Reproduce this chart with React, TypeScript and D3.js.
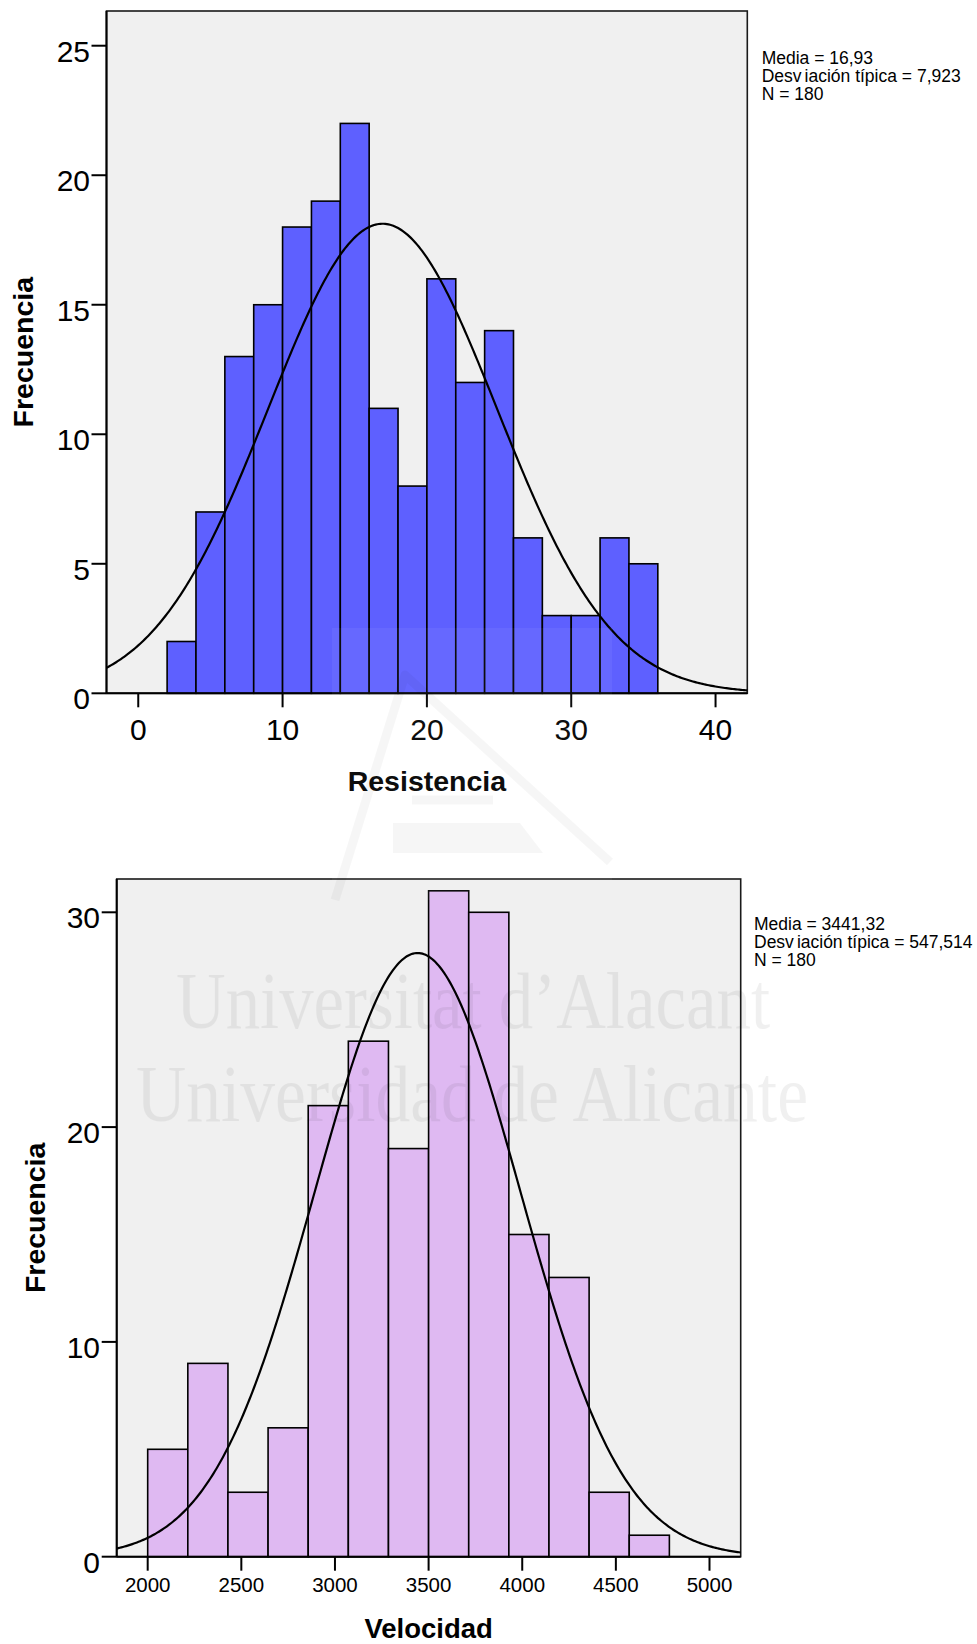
import React from "react";
import * as d3 from "d3";

// Resistencia histogram (bins of width 2 starting at 2)
const resistenciaBinStart = 2;
const resistenciaBinWidth = 2;
const resistenciaCounts = [2, 7, 13, 15, 18, 19, 22, 11, 8, 16, 12, 14, 6, 3, 3, 6, 5];
const resistenciaTicksX = [0, 10, 20, 30, 40];
const resistenciaTicksY = [0, 5, 10, 15, 20, 25];
const resistenciaStats = { mean: 16.93, sd: 7.923, n: 180 };
const resistenciaStatLines = ["Media = 16,93", "Desviación típica = 7,923", "N = 180"];

// Velocidad histogram
const velocidadBinStart = 2000;
const velocidadBinWidth = 1500 / 7;
const velocidadCounts = [5, 9, 3, 6, 21, 24, 19, 31, 30, 15, 13, 3, 1];
const velocidadTicksX = [2000, 2500, 3000, 3500, 4000, 4500, 5000];
const velocidadTicksY = [0, 10, 20, 30];
const velocidadStats = { mean: 3441.32, sd: 547.514, n: 180 };
const velocidadStatLines = ["Media = 3441,32", "Desviación típica = 547,514", "N = 180"];

const FONT = "'Liberation Sans', Arial, Helvetica, sans-serif";

type HistProps = {
  counts: number[];
  binStart: number;
  binWidth: number;
  ticksX: number[];
  ticksY: number[];
  stats: { mean: number; sd: number; n: number };
  statLines: string[];
  xDomain: [number, number];
  yDomain: [number, number];
  box: { left: number; right: number; top: number; bottom: number };
  fill: string;
  xLabel: string;
  xTickFont: number;
  xTickBaseline: number;
  yTickRight: number;
  yTitleX: number;
  xTitleY: number;
  xTitleSize: number;
  statsX: number;
  statsY: number;
};

function StatLine({ text }: { text: string }) {
  // the "Desv iación" gap comes from the original output's kerning
  if (text.startsWith("Desviación")) {
    return (
      <>
        Desv<tspan dx={3}>{text.slice(4)}</tspan>
      </>
    );
  }
  return <>{text}</>;
}

function Histogram(p: HistProps) {
  const x = d3.scaleLinear().domain(p.xDomain).range([p.box.left, p.box.right]);
  const y = d3.scaleLinear().domain(p.yDomain).range([p.box.bottom, p.box.top]);
  const bins = p.counts.map((c, i) => ({
    x0: p.binStart + i * p.binWidth,
    x1: p.binStart + (i + 1) * p.binWidth,
    c,
  }));
  const { mean, sd, n } = p.stats;
  const scaleFactor = (n * p.binWidth) / (sd * Math.sqrt(2 * Math.PI));
  const curveXs = d3.range(0, 401).map(
    (i) => p.xDomain[0] + ((p.xDomain[1] - p.xDomain[0]) * i) / 400
  );
  const line = d3
    .line<number>()
    .x((v) => x(v))
    .y((v) => y(scaleFactor * Math.exp(-0.5 * ((v - mean) / sd) ** 2)))
    .curve(d3.curveLinear);

  return (
    <g>
      <rect
        x={p.box.left}
        y={p.box.top}
        width={p.box.right - p.box.left}
        height={p.box.bottom - p.box.top}
        fill="#f0f0f0"
        stroke="#1a1a1a"
        strokeWidth={1.6}
      />
      {bins.map((b, i) => (
        <rect
          key={i}
          x={x(b.x0)}
          y={y(b.c)}
          width={x(b.x1) - x(b.x0)}
          height={y(0) - y(b.c)}
          fill={p.fill}
          stroke="#000"
          strokeWidth={1.6}
        />
      ))}
      <path d={line(curveXs) || ""} fill="none" stroke="#000" strokeWidth={2.2} />
      {/* axes */}
      <line x1={p.box.left} x2={p.box.right} y1={p.box.bottom} y2={p.box.bottom} stroke="#000" strokeWidth={2} />
      <line x1={p.box.left} x2={p.box.left} y1={p.box.top} y2={p.box.bottom} stroke="#000" strokeWidth={2} />
      {p.ticksY.map((t) => (
        <g key={"y" + t}>
          <line x1={p.box.left - 15} x2={p.box.left} y1={y(t)} y2={y(t)} stroke="#000" strokeWidth={2} />
          <text
            x={p.yTickRight}
            y={y(t) + 16}
            textAnchor="end"
            fontFamily={FONT}
            fontSize={30}
            fill="#000"
          >
            {t}
          </text>
        </g>
      ))}
      {p.ticksX.map((t) => (
        <g key={"x" + t}>
          <line x1={x(t)} x2={x(t)} y1={p.box.bottom} y2={p.box.bottom + 14} stroke="#000" strokeWidth={2} />
          <text
            x={x(t)}
            y={p.box.bottom + p.xTickBaseline}
            textAnchor="middle"
            fontFamily={FONT}
            fontSize={p.xTickFont}
            fill="#000"
          >
            {t}
          </text>
        </g>
      ))}
      <text
        x={(p.box.left + p.box.right) / 2}
        y={p.xTitleY}
        textAnchor="middle"
        fontFamily={FONT}
        fontWeight="bold"
        fontSize={p.xTitleSize}
        fill="#000"
      >
        {p.xLabel}
      </text>
      <text
        transform={`translate(${p.yTitleX},${(p.box.top + p.box.bottom) / 2}) rotate(-90)`}
        textAnchor="middle"
        fontFamily={FONT}
        fontWeight="bold"
        fontSize={28.5}
        fill="#000"
      >
        Frecuencia
      </text>
      {p.statLines.map((s, i) => (
        <text
          key={s}
          x={p.statsX}
          y={p.statsY + i * 17.8}
          fontFamily={FONT}
          fontSize={17.5}
          fill="#000"
        >
          <StatLine text={s} />
        </text>
      ))}
    </g>
  );
}

export default function App() {
  return (
    <svg
      width={977}
      height={1644}
      viewBox="0 0 977 1644"
      style={{ position: "absolute", left: 0, top: 0, background: "#fff" }}
    >
      <rect x={0} y={0} width={977} height={1644} fill="#fff" />
      <Histogram
        counts={resistenciaCounts}
        binStart={resistenciaBinStart}
        binWidth={resistenciaBinWidth}
        ticksX={resistenciaTicksX}
        ticksY={resistenciaTicksY}
        stats={resistenciaStats}
        statLines={resistenciaStatLines}
        xDomain={[-2.2, 42.2]}
        yDomain={[0, 26.34]}
        box={{ left: 106.5, right: 747.3, top: 11, bottom: 693.3 }}
        fill="#5e60ff"
        xLabel="Resistencia"
        xTickFont={30}
        xTickBaseline={47}
        yTickRight={90}
        yTitleX={33}
        xTitleY={791}
        xTitleSize={28.5}
        statsX={761.7}
        statsY={64.3}
      />
      <Histogram
        counts={velocidadCounts}
        binStart={velocidadBinStart}
        binWidth={velocidadBinWidth}
        ticksX={velocidadTicksX}
        ticksY={velocidadTicksY}
        stats={velocidadStats}
        statLines={velocidadStatLines}
        xDomain={[1834.5, 5166.6]}
        yDomain={[0, 31.55]}
        box={{ left: 116.7, right: 740.7, top: 879, bottom: 1556.7 }}
        fill="#dfb9f2"
        xLabel="Velocidad"
        xTickFont={20.5}
        xTickBaseline={35}
        yTickRight={100}
        yTitleX={45}
        xTitleY={1638}
        xTitleSize={27.5}
        statsX={754}
        statsY={930}
      />
      {/* faint institutional watermark */}
      <g pointerEvents="none">
        <rect x={332} y={628} width={280} height={272} fill="#fff" opacity={0.05} />
        <g fill="none" stroke="#000" strokeOpacity={0.035} strokeWidth={9} strokeLinejoin="round">
          <polyline points="335,900 405,675 610,862" />
          <polyline points="412,800 493,800" />
        </g>
        <polygon points="393,823 520,823 543,853 393,853" fill="#000" opacity={0.035} />
        <g fill="#000" opacity={0.055} fontFamily="'Liberation Serif', 'Times New Roman', serif" fontSize={80}>
          <text x={176} y={1028} textLength={594} lengthAdjust="spacingAndGlyphs">
            Universitat d’Alacant
          </text>
          <text x={136} y={1121} textLength={672} lengthAdjust="spacingAndGlyphs">
            Universidad de Alicante
          </text>
        </g>
      </g>
    </svg>
  );
}
